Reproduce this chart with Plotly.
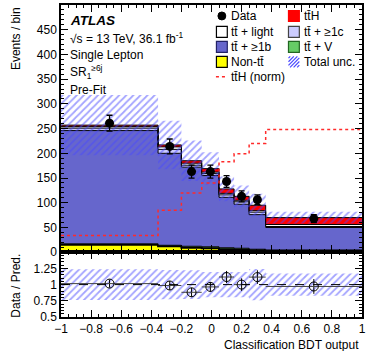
import numpy as np
import plotly.graph_objects as go

# ---------------- data ----------------
bin_edges = [-1.0, -0.355, -0.2, -0.065, 0.05, 0.15, 0.25, 0.36, 1.0]
non_tt   = [15, 12, 9, 8, 6, 5, 4, 3]
tt_v     = [2, 2, 3, 3, 3, 3, 2, 1.5]
tt_b     = [229, 186, 160, 144, 102, 89, 70, 45.5]
tt_c     = [5, 8, 4, 4, 5, 5, 5, 2]
tt_light = [3, 5, 4, 3, 3, 3, 3, 4]
tth      = [3, 4, 5, 7, 9, 8, 11, 14]
tth_norm = [34, 85, 120, 140, 183, 199, 220, 248]
data     = [261, 214, 163, 163, 143, 113, 106, 68]
data_err = [16, 15, 13, 13, 12, 11, 10, 8]
total_unc = [61, 49, 41, 33, 25, 22, 23, 12]

y_ticks = [0, 50, 100, 150, 200, 250, 300, 350, 400, 450]
r_ticks = [0.5, 0.75, 1, 1.25]
r_tick_labels = ["0.5", "0.75", "1", "1.25"]
x_ticks = [-1, -0.8, -0.6, -0.4, -0.2, 0, 0.2, 0.4, 0.6, 0.8, 1]
x_tick_labels = ["\u22121", "\u22120.8", "\u22120.6", "\u22120.4", "\u22120.2", "0",
                 "0.2", "0.4", "0.6", "0.8", "1"]

FONT = "Liberation Sans, Arial, Helvetica, sans-serif"
HATCH = "#4848ff"
TT = "tt\u0304"

COL_NONTT = "#ffff00"
COL_TTV = "#66cc66"
COL_B = "#6666cc"
COL_C = "#ccccff"
COL_LIGHT = "#ffffff"
COL_TTH = "#ff0000"
COL_NORM = "#ff2a2a"

edges = np.array(bin_edges)
centers = 0.5 * (edges[:-1] + edges[1:])
half_w = 0.5 * np.diff(edges)


def step(vals):
    v = list(np.asarray(vals, dtype=float))
    return v + [v[-1]]


fig = go.Figure()

# ---------------- stacked histogram (as filled steps) ----------------
stack = [
    (non_tt, COL_NONTT, 2.0),
    (tt_v, COL_TTV, 1.0),
    (tt_b, COL_B, 1.0),
    (tt_c, COL_C, 1.0),
    (tt_light, COL_LIGHT, 1.0),
    (tth, COL_TTH, 1.0),
]
cum = np.zeros(len(data))
for i, (vals, col, lw) in enumerate(stack):
    cum = cum + np.asarray(vals, dtype=float)
    fig.add_trace(go.Scatter(
        x=edges, y=step(cum), mode="lines",
        line=dict(shape="hv", color="black", width=lw),
        fill="tozeroy" if i == 0 else "tonexty", fillcolor=col,
        showlegend=False, hoverinfo="skip", xaxis="x", yaxis="y"))
total = cum.copy()
unc = np.asarray(total_unc, dtype=float)

# uncertainty hatch (main)
fig.add_trace(go.Scatter(x=edges, y=step(total - unc), mode="lines",
                         line=dict(shape="hv", width=0), showlegend=False,
                         hoverinfo="skip", xaxis="x", yaxis="y"))
fig.add_trace(go.Scatter(x=edges, y=step(total + unc), mode="lines",
                         line=dict(shape="hv", width=0), fill="tonexty",
                         fillcolor="rgba(0,0,0,0)",
                         fillpattern=dict(shape="/", fgcolor=HATCH, size=5, solidity=0.35),
                         showlegend=False, hoverinfo="skip", xaxis="x", yaxis="y"))

# ttH normalised (dotted)
fig.add_trace(go.Scatter(x=edges, y=step(tth_norm), mode="lines",
                         line=dict(shape="hv", color=COL_NORM, width=1.5, dash="dot"),
                         showlegend=False, hoverinfo="skip", xaxis="x", yaxis="y"))

# data
fig.add_trace(go.Scatter(x=centers, y=data, mode="markers",
                         marker=dict(color="black", size=9, symbol="circle"),
                         error_y=dict(type="data", array=data_err, color="black",
                                      thickness=1.3, width=3),
                         showlegend=False, hoverinfo="skip", xaxis="x", yaxis="y"))

# ---------------- ratio panel ----------------
rel = unc / total
ratio = np.asarray(data, dtype=float) / total
ratio_err = np.asarray(data_err, dtype=float) / total

fig.add_trace(go.Scatter(x=edges, y=step(1 - rel), mode="lines",
                         line=dict(shape="hv", width=0), showlegend=False,
                         hoverinfo="skip", xaxis="x2", yaxis="y2"))
fig.add_trace(go.Scatter(x=edges, y=step(1 + rel), mode="lines",
                         line=dict(shape="hv", width=0), fill="tonexty",
                         fillcolor="rgba(0,0,0,0)",
                         fillpattern=dict(shape="/", fgcolor=HATCH, size=5, solidity=0.35),
                         showlegend=False, hoverinfo="skip", xaxis="x2", yaxis="y2"))
fig.add_trace(go.Scatter(x=centers, y=ratio, mode="markers",
                         marker=dict(color="black", size=9, symbol="circle-open",
                                     line=dict(width=1)),
                         error_y=dict(type="data", array=ratio_err, color="black",
                                      thickness=1, width=0),
                         error_x=dict(type="data", array=half_w, color="#444444",
                                      thickness=1, width=0),
                         showlegend=False, hoverinfo="skip", xaxis="x2", yaxis="y2"))

# ---------------- layout ----------------
W, H = 369, 351
ml, mr, mt, mb = 61, 3, 4, 34
ph = H - mt - mb
pw = W - ml - mr
split = 65 / ph

axis_common = dict(showline=True, linecolor="black", linewidth=1.5, mirror="allticks",
                   ticks="inside", ticklen=7, tickwidth=1, tickcolor="black",
                   showgrid=False, zeroline=False,
                   tickfont=dict(family=FONT, size=12, color="black"))

fig.update_layout(
    width=W, height=H,
    margin=dict(l=ml, r=mr, t=mt, b=mb),
    paper_bgcolor="white", plot_bgcolor="white",
    font=dict(family=FONT, size=12, color="black"),
    showlegend=False,
    xaxis=dict(domain=[0, 1], anchor="y", range=[-1, 1], tickmode="array",
               tickvals=x_ticks, showticklabels=False,
               minor=dict(dtick=0.05, tick0=-1, ticks="inside", ticklen=3, tickcolor="black"),
               **axis_common),
    yaxis=dict(domain=[split, 1], anchor="x", range=[0, 500], tickmode="array",
               tickvals=y_ticks,
               minor=dict(dtick=10, tick0=0, ticks="inside", ticklen=3, tickcolor="black"),
               **axis_common),
    xaxis2=dict(domain=[0, 1], anchor="y2", range=[-1, 1], tickmode="array",
                tickvals=x_ticks, ticktext=x_tick_labels,
                minor=dict(dtick=0.05, tick0=-1, ticks="inside", ticklen=3, tickcolor="black"),
                **axis_common),
    yaxis2=dict(domain=[0, split], anchor="x2", range=[0.5, 1.5], tickmode="array",
                tickvals=r_ticks, ticktext=r_tick_labels,
                minor=dict(dtick=0.05, tick0=0.5, ticks="inside", ticklen=3, tickcolor="black"),
                **axis_common),
)


def px(xp, yp):
    return (xp - ml) / pw, 1 - (yp - mt) / ph


shapes = [dict(type="line", xref="x2", yref="y2", x0=-1, x1=1, y0=1, y1=1,
               line=dict(color="black", width=1, dash="dash"))]
ann = []


def add_text(t, xp, yp, size=12, xanchor="left", yanchor="middle", angle=0):
    xx, yy = px(xp, yp)
    ann.append(dict(text=t, x=xx, y=yy, xref="paper", yref="paper",
                    xanchor=xanchor, yanchor=yanchor, textangle=angle, showarrow=False,
                    font=dict(family=FONT, size=size, color="black")))


def add_box(xc, yc, fill, border, s=11):
    x0, y0 = px(xc - s / 2, yc + s / 2)
    x1, y1 = px(xc + s / 2, yc - s / 2)
    shapes.append(dict(type="rect", xref="paper", yref="paper", x0=x0, y0=y0, x1=x1, y1=y1,
                       fillcolor=fill, line=dict(color=border, width=1.2)))


def add_hatch_box(xc, yc, s=11, gap=3.6):
    xl, yb = xc - s / 2, yc + s / 2
    c = -s + gap / 2
    while c < s:
        u0, w0 = max(c, 0), max(-c, 0)
        u1, w1 = min(s, s + c), min(s, s - c)
        ax, ay = px(xl + u0, yb - w0)
        bx, by = px(xl + u1, yb - w1)
        shapes.append(dict(type="line", xref="paper", yref="paper", x0=ax, y0=ay, x1=bx, y1=by,
                           line=dict(color=HATCH, width=1.2)))
        c += gap


# legend, column 1
rows = [15, 31, 46, 61, 76]
c1x, c1t = 224, 231
c2x, c2t = 297, 305
dx0, dy0 = px(c1x - 4, rows[0] + 4)
dx1, dy1 = px(c1x + 4, rows[0] - 4)
shapes.append(dict(type="circle", xref="paper", yref="paper", x0=dx0, y0=dy0, x1=dx1, y1=dy1,
                   fillcolor="black", line=dict(color="black", width=1)))
add_text("Data", c1t, rows[0])
add_box(c1x, rows[1], COL_LIGHT, "black")
add_text(TT + " + light", c1t, rows[1])
add_box(c1x, rows[2], COL_B, "#222266")
add_text(TT + " + \u22651b", c1t, rows[2])
add_box(c1x, rows[3], COL_NONTT, "black")
add_text("Non-" + TT, c1t, rows[3])
lx0, ly = px(c1x - 6, rows[4])
lx1, _ = px(c1x + 6, rows[4])
shapes.append(dict(type="line", xref="paper", yref="paper", x0=lx0, y0=ly, x1=lx1, y1=ly,
                   line=dict(color=COL_NORM, width=1.5, dash="dot")))
add_text(TT + "H (norm)", c1t, rows[4])

# legend, column 2
add_box(c2x, rows[0], COL_TTH, COL_TTH)
add_text(TT + "H", c2t, rows[0])
add_box(c2x, rows[1], COL_C, "#444444")
add_text(TT + " + \u22651c", c2t, rows[1])
add_box(c2x, rows[2], COL_TTV, "#226622")
add_text(TT + " + V", c2t, rows[2])
add_hatch_box(c2x, rows[3])
add_text("Total unc.", c2t, rows[3])

# labels
add_text("<b><i>ATLAS</i></b>", 68, 20, size=13.5)
add_text("\u221As = 13 TeV, 36.1 fb<sup>-1</sup>", 68, 37)
add_text("Single Lepton", 68, 54)
add_text("SR<sub>1</sub><sup>\u22656j</sup>", 68, 71)
add_text("Pre-Fit", 68, 89)

add_text("Events / bin", 15, 4, xanchor="center", yanchor="top", angle=-90)
add_text("Data / Pred.", 15, 286, xanchor="center", yanchor="middle", angle=-90)
add_text("Classification BDT output", 365, 345, xanchor="right")

fig.update_layout(shapes=shapes, annotations=ann)

fig.write_html("out.html")
